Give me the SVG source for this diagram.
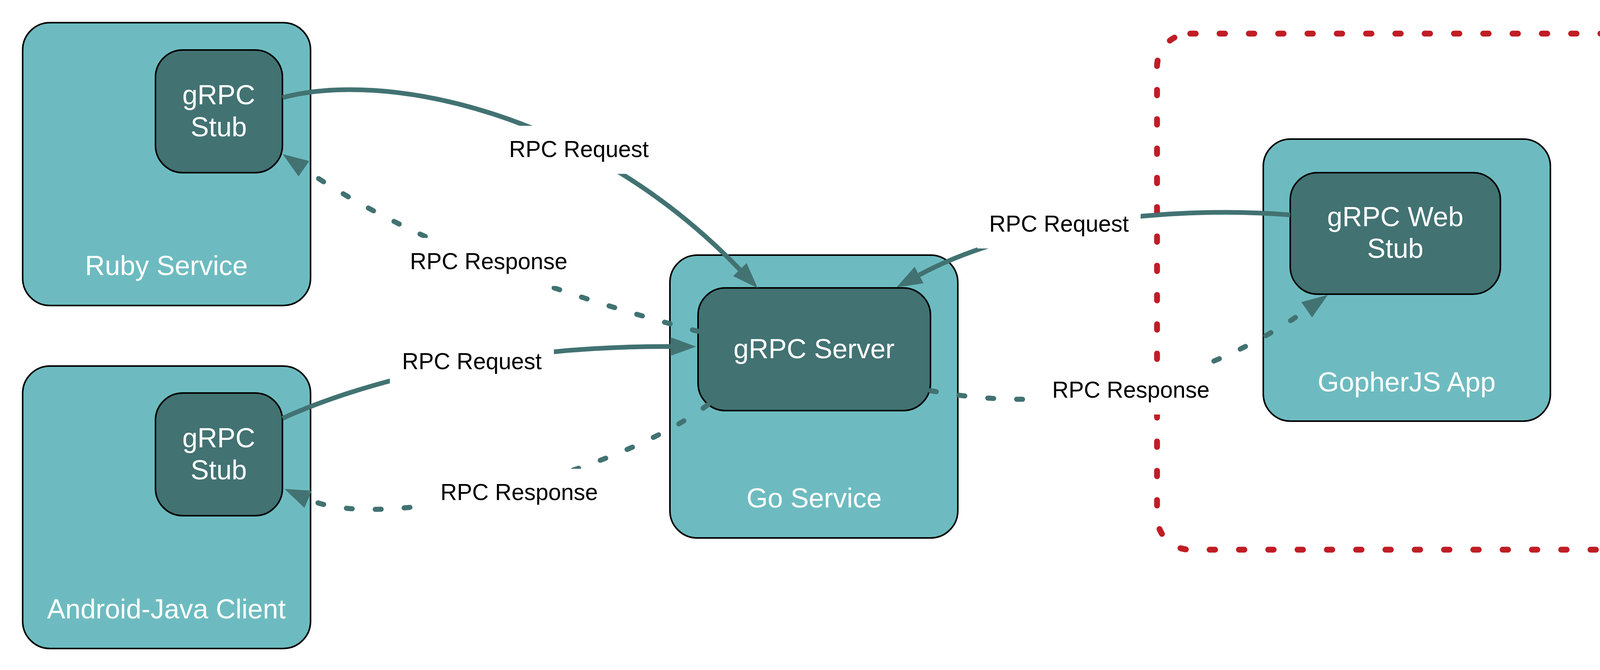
<svg xmlns="http://www.w3.org/2000/svg" width="4315" height="1715" viewBox="0 0 4315 1715">
<defs>
<style>
.outer{fill:#6DBBC0;stroke:#000;stroke-width:4}
.inner{fill:#427272;stroke:#000;stroke-width:4}
.nt{font-family:"Liberation Sans",Arial,Helvetica,sans-serif;font-size:70px;fill:#fff;text-anchor:middle}
.el{font-family:"Liberation Sans",Arial,Helvetica,sans-serif;font-size:58.5px;fill:#000;text-anchor:middle}
.lb{fill:#fff;stroke:none}
.e{fill:none;stroke:#427272;stroke-width:12}
.d{stroke-width:13;stroke-dasharray:15 59;stroke-linecap:round}
.boundary{fill:none;stroke:#C01D25;stroke-width:15;stroke-dasharray:14 61;stroke-linecap:round}
</style>
<marker id="ah" markerUnits="userSpaceOnUse" markerWidth="66" markerHeight="48" viewBox="0 0 66 48" refX="0" refY="24" orient="auto">
<path d="M0,0 L66,24 L0,48 z" fill="#427272"/>
</marker>
</defs>
<rect width="4315" height="1715" fill="#fff"/>
<g id="browser-boundary"><rect class="boundary" x="2962" y="86" width="1293" height="1321" rx="85"/></g>
<g id="ruby-service">
<rect class="outer" x="58" y="58" width="737" height="724" rx="70"/>
<text class="nt" x="426" y="704">Ruby Service</text>
</g>
<g id="ruby-stub">
<rect class="inner" x="398" y="128" width="325" height="314" rx="70"/>
<text class="nt" x="560" y="267">gRPC</text>
<text class="nt" x="560" y="349">Stub</text>
</g>
<g id="android-client">
<rect class="outer" x="58" y="937" width="737" height="723" rx="70"/>
<text class="nt" x="426" y="1583">Android-Java Client</text>
</g>
<g id="android-stub">
<rect class="inner" x="398" y="1006" width="325" height="314" rx="70"/>
<text class="nt" x="560" y="1145">gRPC</text>
<text class="nt" x="560" y="1227">Stub</text>
</g>
<g id="go-service">
<rect class="outer" x="1715" y="653" width="737" height="724" rx="70"/>
<text class="nt" x="2084" y="1299">Go Service</text>
</g>
<g id="grpc-server">
<rect class="inner" x="1787" y="737" width="595" height="314" rx="70"/>
<text class="nt" x="2084" y="917">gRPC Server</text>
</g>
<g id="gopherjs-app">
<rect class="outer" x="3234" y="356" width="735" height="722" rx="70"/>
<text class="nt" x="3601" y="1002">GopherJS App</text>
</g>
<g id="grpc-web-stub">
<rect class="inner" x="3303" y="442" width="538" height="311" rx="70"/>
<text class="nt" x="3572" y="579">gRPC Web</text>
<text class="nt" x="3572" y="660">Stub</text>
</g>
<g id="connectors">
<path class="e" d="M723,250 C980,180 1500,280 1894,690" marker-end="url(#ah)"/>
<path class="e d" d="M1787,848 C1450,760 1050,620 778,432" marker-end="url(#ah)"/>
<path class="e" d="M723,1071 C900,990 1250,885 1716,887" marker-end="url(#ah)"/>
<path class="e d" d="M1812,1036 C1600,1200 1000,1370 789,1278" marker-end="url(#ah)"/>
<path class="e" d="M3303,550 C3000,525 2600,570 2353,704" marker-end="url(#ah)"/>
<path class="e d" d="M2382,1000 C2700,1060 3050,1000 3345,793" marker-end="url(#ah)"/>
<g id="label-ruby-request"><rect class="lb" x="1272" y="322" width="420" height="123"/><text class="el" x="1482" y="402">RPC Request</text></g>
<g id="label-ruby-response"><rect class="lb" x="1021" y="609" width="461" height="123"/><text class="el" x="1251" y="689">RPC Response</text></g>
<g id="label-android-request"><rect class="lb" x="998" y="865" width="420" height="123"/><text class="el" x="1208" y="945">RPC Request</text></g>
<g id="label-android-response"><rect class="lb" x="1098" y="1200" width="462" height="123"/><text class="el" x="1329" y="1280">RPC Response</text></g>
<g id="label-web-request"><rect class="lb" x="2502" y="513" width="418" height="123"/><text class="el" x="2711" y="593">RPC Request</text></g>
<g id="label-web-response"><rect class="lb" x="2661" y="938" width="468" height="123"/><text class="el" x="2895" y="1018">RPC Response</text></g>
</g>
</svg>
